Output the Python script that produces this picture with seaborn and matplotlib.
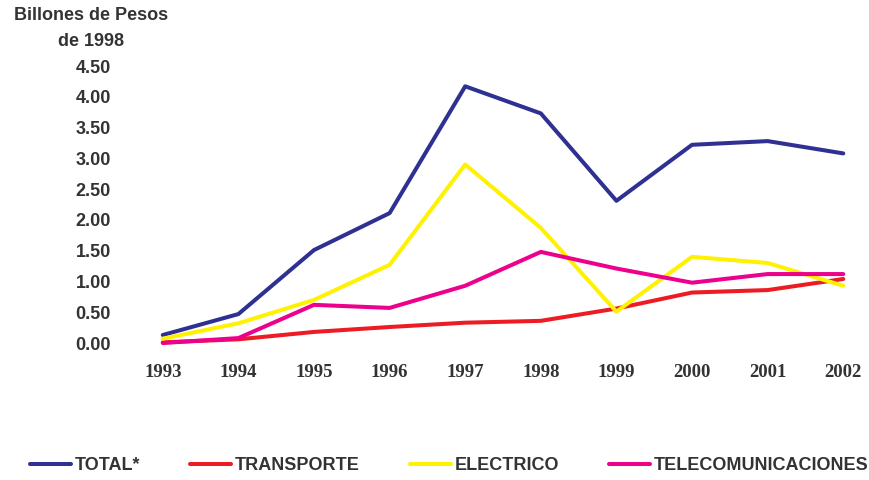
import pandas as pd
import matplotlib.pyplot as plt
import seaborn as sns

years = [1993, 1994, 1995, 1996, 1997, 1998, 1999, 2000, 2001, 2002]
total = [0.13, 0.47, 1.51, 2.11, 4.17, 3.73, 2.31, 3.22, 3.28, 3.08]
transporte = [0.01, 0.06, 0.18, 0.26, 0.33, 0.36, 0.56, 0.82, 0.86, 1.04]
electrico = [0.07, 0.32, 0.70, 1.27, 2.90, 1.87, 0.51, 1.40, 1.30, 0.93]
telecom = [0.00, 0.08, 0.62, 0.57, 0.93, 1.48, 1.21, 0.98, 1.12, 1.12]

series = ['TOTAL*', 'TRANSPORTE', 'ELECTRICO', 'TELECOMUNICACIONES']
colors = ['#2E3192', '#ED1C24', '#FFF200', '#EC008C']

df = pd.DataFrame({'year': years, 'TOTAL*': total, 'TRANSPORTE': transporte,
                   'ELECTRICO': electrico, 'TELECOMUNICACIONES': telecom})
df = df.melt(id_vars='year', var_name='serie', value_name='valor')

sns.set_style('white')
plt.rcParams['font.family'] = ['Liberation Sans', 'DejaVu Sans']

fig = plt.figure(figsize=(8.69, 4.8), dpi=100)
ax = fig.add_axes([0.1438, 0.2854, 0.8527, 0.5771])

sns.lineplot(data=df, x='year', y='valor', hue='serie', hue_order=series,
             palette=colors, linewidth=2.9, ax=ax, clip_on=False)

ax.set_xlim(1992.5, 2002.3)
ax.set_ylim(0, 4.5)
ax.set_xticks(years)
ax.set_xticklabels([str(y) for y in years], family='Liberation Serif',
                   fontweight='bold', fontsize=13.5, color='#333333')
ax.set_yticks([i * 0.5 for i in range(10)])
ax.set_yticklabels([f'{i * 0.5:.2f}' for i in range(10)], fontweight='bold',
                   fontsize=13, color='#333333')
ax.tick_params(axis='y', length=0, pad=10)
ax.tick_params(axis='x', length=0, pad=15)
ax.set_xlabel('')
ax.set_ylabel('')
sns.despine(ax=ax, left=True, bottom=True)

fig.text(91 / 869, 1 - 15 / 480, 'Billones de Pesos', ha='center', va='center',
         fontweight='bold', fontsize=13, color='#333333')
fig.text(91 / 869, 1 - 41 / 480, 'de 1998', ha='center', va='center',
         fontweight='bold', fontsize=13, color='#333333')

handles, labels = ax.get_legend_handles_labels()
ax.get_legend().remove()
leg = fig.legend(handles, labels, loc='center', bbox_to_anchor=(0.517, 0.03),
                 ncol=4, frameon=False, handlelength=2.25, handletextpad=0.2,
                 columnspacing=2.8, prop={'weight': 'bold', 'size': 13})
for t in leg.get_texts():
    t.set_color('#333333')

fig.savefig('out.png', dpi=100)
